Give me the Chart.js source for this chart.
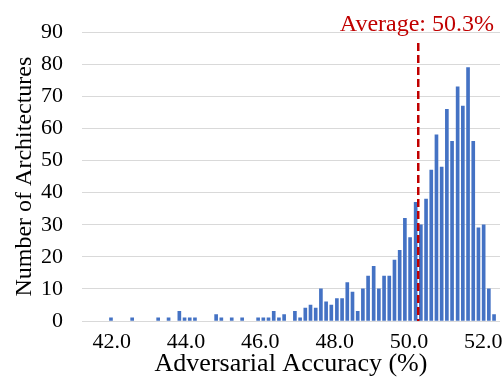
<!DOCTYPE html>
<html>
<head>
<meta charset="utf-8">
<script src="https://cdn.jsdelivr.net/npm/chart.js@4/dist/chart.umd.min.js"></script>
<style>
  html, body { margin: 0; padding: 0; background: #fff; }
  #wrap { width: 504px; height: 377px; }
</style>
</head>
<body>
<div id="wrap"><canvas id="histChart" width="504" height="377"></canvas></div>
<script>
// bin centres (adversarial accuracy, %) of the non-empty bins
const binCenters = [
  41.98, 42.55, 43.25, 43.53, 43.82, 43.96, 44.10, 44.24, 44.81, 44.95,
  45.23, 45.51, 45.94, 46.08, 46.22, 46.36, 46.50, 46.64, 46.93, 47.07,
  47.21, 47.35, 47.49, 47.63, 47.77, 47.91, 48.06, 48.20, 48.34, 48.48,
  48.62, 48.76, 48.90, 49.05, 49.19, 49.33, 49.47, 49.61, 49.75, 49.89,
  50.03, 50.18, 50.32, 50.46, 50.60, 50.74, 50.88, 51.02, 51.16, 51.31,
  51.45, 51.59, 51.73, 51.87, 52.01, 52.15, 52.29
];
// number of architectures in each bin
const counts = [
  1, 1, 1, 1, 3, 1, 1, 1, 2, 1,
  1, 1, 1, 1, 1, 3, 1, 2, 3, 1,
  4, 5, 4, 10, 6, 5, 7, 7, 12, 9,
  3, 10, 14, 17, 10, 14, 14, 19, 22, 32,
  26, 37, 30, 38, 47, 58, 48, 66, 56, 73,
  67, 79, 56, 29, 30, 10, 2
];
const xTicks = [42, 44, 46, 48, 50, 52];
const yTicks = [0, 10, 20, 30, 40, 50, 60, 70, 80, 90];
const averageValue = 50.25;
const averageLabel = "Average: 50.3%";

const COLORS = {
  bar: "#4472C4",
  grid: "#D9D9D9",
  avg: "#C00000",
  text: "#000000",
};
const SERIF = "'Liberation Serif', 'Times New Roman', serif";

const averageLine = {
  id: "averageLine",
  afterDatasetsDraw(chart) {
    const { ctx, scales } = chart;
    const x = scales.x.getPixelForValue(averageValue);
    const yBottom = scales.y.getPixelForValue(0);
    ctx.save();
    ctx.strokeStyle = COLORS.avg;
    ctx.lineWidth = 2.5;
    ctx.setLineDash([8, 4]);
    ctx.beginPath();
    ctx.moveTo(x, 43);
    ctx.lineTo(x, yBottom);
    ctx.stroke();
    ctx.setLineDash([]);
    ctx.fillStyle = COLORS.avg;
    ctx.font = "24px " + SERIF;
    ctx.textAlign = "right";
    ctx.textBaseline = "alphabetic";
    ctx.fillText(averageLabel, 494, 31);
    ctx.restore();
  },
};

new Chart(document.getElementById("histChart"), {
  type: "bar",
  data: {
    datasets: [
      {
        data: binCenters.map((x, i) => ({ x: x, y: counts[i] })),
        backgroundColor: COLORS.bar,
        borderWidth: 0,
        barThickness: 3,
      },
    ],
  },
  options: {
    responsive: false,
    animation: false,
    layout: { padding: { top: 20, right: 4, left: 0, bottom: 0 } },
    scales: {
      x: {
        type: "linear",
        min: 41.2,
        max: 52.45,
        offset: false,
        grid: { display: false },
        border: { display: false },
        afterBuildTicks: (axis) => { axis.ticks = xTicks.map((v) => ({ value: v })); },
        afterFit: (axis) => { axis.height = 56; },
        ticks: {
          color: COLORS.text,
          font: { family: SERIF, size: 22 },
          padding: 0,
          maxRotation: 0,
          callback: (v) => Number(v).toFixed(1),
        },
        title: {
          display: true,
          text: "Adversarial Accuracy (%)",
          color: COLORS.text,
          font: { family: SERIF, size: 26 },
          padding: { top: 0, bottom: -3 },
        },
      },
      y: {
        min: 0,
        max: 90,
        grid: { color: COLORS.grid, lineWidth: 1, drawTicks: false },
        border: { display: false },
        afterBuildTicks: (axis) => { axis.ticks = yTicks.map((v) => ({ value: v })); },
        afterFit: (axis) => { axis.width = 82; },
        ticks: {
          color: COLORS.text,
          font: { family: SERIF, size: 22 },
          padding: 19,
        },
        title: {
          display: true,
          text: "Number of Architectures",
          color: COLORS.text,
          font: { family: SERIF, size: 24 },
          padding: { top: 10, bottom: 0 },
        },
      },
    },
    plugins: { legend: { display: false }, tooltip: { enabled: false } },
  },
  plugins: [averageLine],
});
</script>
</body>
</html>
